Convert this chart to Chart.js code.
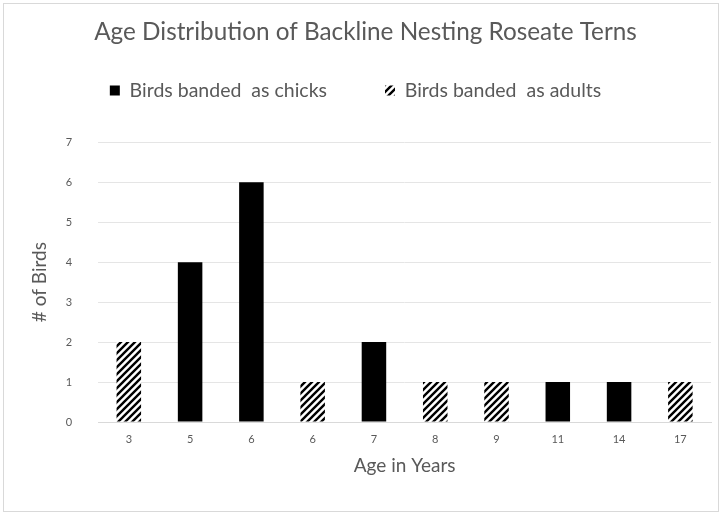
<!DOCTYPE html>
<html>
<head>
<meta charset="utf-8">
<script src="https://cdn.jsdelivr.net/npm/chart.js@4"></script>
<style>
  html, body { margin: 0; padding: 0; background: #fff; }
  #frame {
    position: absolute; left: 3px; top: 3px;
    width: 716px; height: 509px;
    border: 1px solid #d9d9d9; box-sizing: border-box;
  }
</style>
</head>
<body>
<div id="frame"><canvas id="chart"></canvas></div>
<script>
// Данные графика
const ageLabels = ['3', '5', '6', '6', '7', '8', '9', '11', '14', '17'];
const chicks = [null, 4, 6, null, 2, null, null, 1, 1, null];
const adults = [2, null, null, 1, null, 1, 1, null, null, 1];
const yTicks = [0, 1, 2, 3, 4, 5, 6, 7];

const FONT = 'Lato, "Open Sans", sans-serif';
const GREY = '#595959';

// Штриховка для взрослых птиц
function makeHatch() {
    const size = 7;
    const c = document.createElement('canvas');
    c.width = size; c.height = size;
    const g = c.getContext('2d');
    g.fillStyle = '#fff';
    g.fillRect(0, 0, size, size);
    g.strokeStyle = '#000';
    g.lineWidth = 2.4;
    g.beginPath();
    g.moveTo(-1, size + 1); g.lineTo(size + 1, -1);
    g.moveTo(-1, 1); g.lineTo(1, -1);
    g.moveTo(size - 1, size + 1); g.lineTo(size + 1, size - 1);
    g.stroke();
    return g.createPattern(c, 'repeat');
}

// Отступ под легендой, сдвиг легенды и заголовка влево
const legendSpacer = {
    id: 'legendSpacer',
    afterInit(chart) {
        const legend = chart.legend;
        const fit = legend.fit.bind(legend);
        legend.fit = function () {
            fit();
            this.height += 32;
        };
    },
    afterLayout(chart) {
        chart.legend.left -= 12;
        chart.legend.right -= 12;
        chart.titleBlock.left -= 2;
        chart.titleBlock.right -= 2;
    }
};

const hatch = makeHatch();

new Chart(document.getElementById('chart'), {
    type: 'bar',
    data: {
        labels: ageLabels,
        datasets: [
            {
                label: 'Birds banded  as chicks',
                data: chicks,
                backgroundColor: '#000',
                borderWidth: 0
            },
            {
                label: 'Birds banded  as adults',
                data: adults,
                backgroundColor: hatch,
                borderWidth: 0
            }
        ]
    },
    plugins: [legendSpacer],
    options: {
        responsive: true,
        maintainAspectRatio: false,
        animation: false,
        layout: { padding: { top: 13.6, right: 7, bottom: 30, left: 20 } },
        datasets: { bar: { categoryPercentage: 1, barPercentage: 0.4 } },
        plugins: {
            title: {
                display: true,
                text: 'Age Distribution of Backline Nesting Roseate Terns',
                color: GREY,
                font: { family: FONT, size: 24.3, weight: 'normal' },
                padding: { top: 0, bottom: -24 }
            },
            legend: {
                display: true,
                position: 'top',
                labels: {
                    color: GREY,
                    font: { family: FONT, size: 19.5 },
                    boxWidth: 10,
                    boxHeight: 10,
                    padding: 58
                }
            },
            tooltip: { enabled: false }
        },
        scales: {
            x: {
                stacked: true,
                grid: { display: false },
                border: { color: '#d9d9d9' },
                ticks: { color: GREY, font: { family: FONT, size: 11 }, padding: 3 },
                title: {
                    display: true,
                    text: 'Age in Years',
                    color: GREY,
                    font: { family: FONT, size: 19 },
                    padding: { top: 5 }
                }
            },
            y: {
                stacked: true,
                min: 0,
                max: 7,
                afterBuildTicks: (axis) => { axis.ticks = yTicks.map(v => ({ value: v })); },
                grid: { color: '#e5e5e5', drawTicks: false },
                border: { display: false },
                ticks: { color: GREY, font: { family: FONT, size: 11 }, padding: 26 },
                title: {
                    display: true,
                    text: '# of Birds',
                    color: GREY,
                    font: { family: FONT, size: 19 },
                    padding: { bottom: -11 }
                }
            }
        }
    }
});
</script>
</body>
</html>
